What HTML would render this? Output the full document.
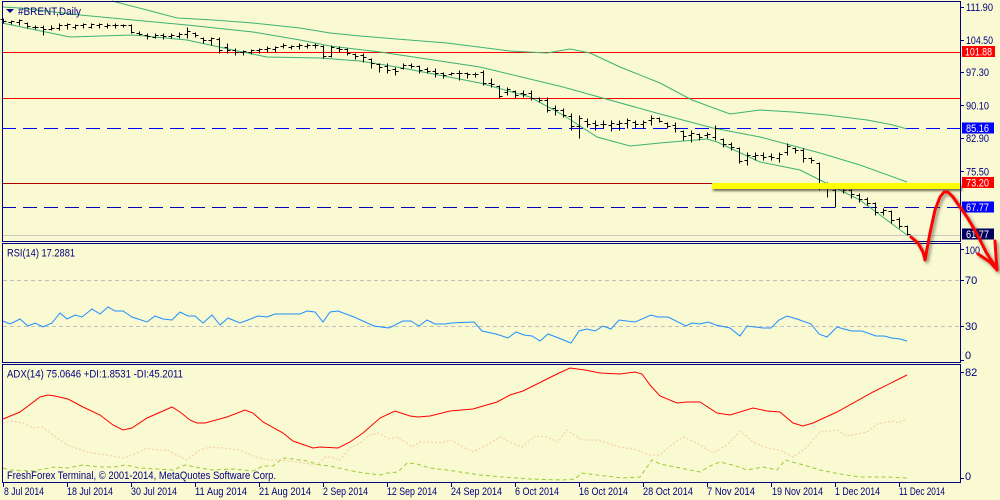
<!DOCTYPE html>
<html><head><meta charset="utf-8"><style>
html,body{margin:0;padding:0;background:#F9F9D2;}
svg{display:block;}
text{font-family:"Liberation Sans",Arial,sans-serif;font-size:11px;fill:#000080;}
</style></head><body>
<svg width="1000" height="500" viewBox="0 0 1000 500" xmlns="http://www.w3.org/2000/svg">
<defs>
<filter id="sh" x="-20%" y="-20%" width="140%" height="140%"><feDropShadow dx="2" dy="2" stdDeviation="1.5" flood-color="#404030" flood-opacity="0.6"/></filter>
<filter id="sh2" x="-5%" y="-50%" width="110%" height="250%"><feDropShadow dx="1" dy="2" stdDeviation="1" flood-color="#303020" flood-opacity="0.7"/></filter>
</defs>
<rect width="1000" height="500" fill="#F9F9D2"/>

<!-- horizontal levels -->
<g shape-rendering="crispEdges" stroke-width="1">
<line x1="2" y1="52.5" x2="960" y2="52.5" stroke="#ff0000"/>
<line x1="2" y1="98.5" x2="960" y2="98.5" stroke="#ff0000"/>
<line x1="2" y1="128.5" x2="960" y2="128.5" stroke="#0000ff" stroke-dasharray="14 7"/>
<line x1="2" y1="183.5" x2="960" y2="183.5" stroke="#b00000"/>
<line x1="2" y1="207.5" x2="960" y2="207.5" stroke="#0000b0" stroke-dasharray="14 7"/>
<line x1="2" y1="235.5" x2="960" y2="235.5" stroke="#c8c8c0"/>
</g>

<!-- bands -->
<g fill="none" stroke="#3CB371" stroke-width="1">
<polyline points="112,1 147,10 177,18 213,20 253,23 300,28 330,33 360,36 447,43 510,51 547,53 570,49 590,53 620,67 660,83 692,100 730,114 760,110 793,112 827,115 867,120 893,125 907,129"/>
<polyline points="2,7 20,8 80,15 133,20 187,25 253,32 300,40 330,46 380,52 480,67 563,87 660,114 713,128 760,137 820,153 860,165 907,182"/>
<polyline points="2,23 70,37 133,35 187,40 233,50 267,57 320,58 360,61 397,67 480,83 530,97 563,115 597,137 630,146 660,143 707,139 717,142 760,162 800,170 820,180 860,200 907,235"/>
</g>

<!-- bars -->
<path transform="translate(0.5,0.5)" fill="none" stroke="#000" stroke-width="1" shape-rendering="crispEdges" d="M3 18V23M0 19h3M3 21h3M11 20V24M8 22h3M11 21h3M19 19V25M16 22h3M19 20h3M27 22V28M24 23h3M27 26h3M35 25V29M32 27h3M35 27h3M43 25V35M40 27h3M43 29h3M51 25V30M48 29h3M51 28h3M59 23V30M56 28h3M59 25h3M67 23V29M64 25h3M67 24h3M75 24V29M72 27h3M75 25h3M83 23V28M80 25h3M83 24h3M91 23V28M88 27h3M91 24h3M99 23V28M96 25h3M99 24h3M107 23V28M104 26h3M107 25h3M115 23V28M112 25h3M115 25h3M123 24V27M120 25h3M123 25h3M131 24V33M128 25h3M131 32h3M139 31V35M136 33h3M139 34h3M147 33V39M144 35h3M147 36h3M155 33V38M152 37h3M155 35h3M163 33V39M160 35h3M163 36h3M171 33V38M168 36h3M171 35h3M179 32V38M176 36h3M179 34h3M187 27V38M184 34h3M187 31h3M195 32V37M192 33h3M195 35h3M203 37V43M200 38h3M203 40h3M211 37V45M208 40h3M211 38h3M219 37V53M216 39h3M219 50h3M227 43V53M224 47h3M227 50h3M235 48V55M232 50h3M235 52h3M243 50V55M240 52h3M243 51h3M251 49V54M248 52h3M251 50h3M259 48V53M256 50h3M259 49h3M267 46V52M264 49h3M267 48h3M275 46V52M272 49h3M275 47h3M283 43V48M280 46h3M283 45h3M291 45V49M288 47h3M291 46h3M299 43V49M296 46h3M299 45h3M307 43V48M304 46h3M307 45h3M315 43V48M312 45h3M315 45h3M323 45V58M320 46h3M323 56h3M331 45V57M328 56h3M331 47h3M339 46V52M336 48h3M339 49h3M347 48V55M344 49h3M347 53h3M355 53V59M352 54h3M355 56h3M363 53V62M360 55h3M363 57h3M371 58V68M368 59h3M371 63h3M379 63V72M376 64h3M379 67h3M387 63V73M384 66h3M387 70h3M395 67V75M392 69h3M395 71h3M403 63V69M400 68h3M403 65h3M411 63V68M408 65h3M411 66h3M419 65V73M416 66h3M419 70h3M427 67V73M424 69h3M427 71h3M435 68V77M432 71h3M435 73h3M443 72V78M440 73h3M443 75h3M451 72V75M448 74h3M451 73h3M459 70V80M456 73h3M459 73h3M467 72V78M464 73h3M467 74h3M475 72V77M472 74h3M475 74h3M483 70V85M480 72h3M483 83h3M491 78V87M488 83h3M491 84h3M499 85V98M496 86h3M499 96h3M507 87V95M504 92h3M507 89h3M515 90V98M512 91h3M515 95h3M523 90V97M520 93h3M523 94h3M531 90V100M528 93h3M531 98h3M539 97V102M536 98h3M539 100h3M547 97V112M544 100h3M547 110h3M555 105V115M552 108h3M555 110h3M563 108V117M560 110h3M563 115h3M571 113V130M568 116h3M571 126h3M579 115V138M576 126h3M579 118h3M587 118V127M584 121h3M587 124h3M595 120V130M592 123h3M595 125h3M603 120V128M600 124h3M603 124h3M611 120V131M608 125h3M611 123h3M619 120V130M616 124h3M619 123h3M627 118V128M624 123h3M627 120h3M635 120V128M632 122h3M635 124h3M643 120V128M640 124h3M643 122h3M651 115V125M648 120h3M651 118h3M659 117V122M656 118h3M659 121h3M667 122V128M664 123h3M667 126h3M675 122V132M672 125h3M675 128h3M683 130V140M680 131h3M683 136h3M691 130V142M688 135h3M691 133h3M699 133V140M696 134h3M699 137h3M707 132V138M704 135h3M707 134h3M715 125V140M712 137h3M715 128h3M723 138V147M720 139h3M723 144h3M731 142V150M728 144h3M731 147h3M739 147V163M736 148h3M739 161h3M747 152V165M744 160h3M747 155h3M755 152V160M752 156h3M755 155h3M763 152V160M760 155h3M763 157h3M771 153V160M768 156h3M771 157h3M779 152V162M776 158h3M779 154h3M787 143V155M784 152h3M787 146h3M795 147V153M792 148h3M795 150h3M803 148V162M800 150h3M803 158h3M811 157V163M808 158h3M811 160h3M819 162V190M816 163h3M819 188h3M827 182V197M824 185h3M827 187h3M835 183V207M832 190h3M835 186h3M843 183V193M840 186h3M843 190h3M851 188V198M848 190h3M851 194h3M859 193V202M856 195h3M859 199h3M867 197V205M864 199h3M867 203h3M875 202V215M872 203h3M875 212h3M883 208V215M880 212h3M883 210h3M891 210V223M888 211h3M891 220h3M899 217V228M896 219h3M899 226h3M907 225V235M904 226h3M907 234h3"/>

<!-- yellow highlight -->
<rect x="712" y="183" width="249" height="6" fill="#ffff00" filter="url(#sh2)"/>

<!-- RSI levels -->
<g shape-rendering="crispEdges">
<line x1="3" y1="280.5" x2="960" y2="280.5" stroke="#c0c0c0" stroke-dasharray="4 3"/>
<line x1="3" y1="326.5" x2="960" y2="326.5" stroke="#c0c0c0" stroke-dasharray="4 3"/>
</g>
<polyline fill="none" stroke="#1E90FF" stroke-width="1" points="3,321 10,324 20,319 28,326 35,323 43,327 52,323 60,313 67,319 75,315 82,317 92,309 100,314 108,307 115,311 123,311 132,317 147,322 155,316 163,319 172,320 180,312 188,316 195,316 203,323 212,315 220,325 228,318 240,323 248,320 258,316 267,317 275,314 300,314 307,311 315,312 323,322 330,312 338,311 354,317 374,326 389,328 403,321 411,321 419,326 427,320 435,324 445,324 451,323 474,322 482,331 496,334 508,338 516,332 524,335 532,336 540,341 548,334 556,337 571,343 579,331 587,329 595,331 603,326 611,329 619,320 635,322 651,315 658,317 668,317 686,326 692,323 700,324 708,322 716,325 730,328 740,336 747,326 755,327 763,328 771,328 779,320 787,316 797,319 811,324 819,334 827,337 837,327 844,329 852,331 862,331 876,336 884,336 892,338 900,339 907,341"/>

<!-- ADX -->
<polyline fill="none" stroke="#F4C8A6" stroke-width="1" stroke-dasharray="2 2" points="3,423 13,421 23,423 33,428 42,427 50,433 67,445 87,452 107,455 123,458 133,455 147,448 157,450 167,450 173,453 187,460 200,450 210,447 223,448 240,450 253,456 267,460 280,460 297,462 317,465 325,457 330,457 340,460 350,448 360,443 370,435 378,433 390,439 398,437 412,447 420,442 430,442 440,443 452,440 463,447 473,452 487,445 500,437 512,443 522,447 535,436 547,437 558,442 567,430 583,440 597,440 607,443 620,447 633,449 650,455 660,455 670,446 683,437 697,443 713,453 727,445 740,431 753,442 767,448 780,450 793,457 807,447 820,432 837,430 847,436 867,432 877,424 893,421 898,423 907,419"/>
<polyline fill="none" stroke="#9ACD32" stroke-width="1" stroke-dasharray="4 3" points="3,468 10,470 33,471 55,467 67,468 83,465 100,467 113,467 125,465 140,468 157,469 173,470 185,465 200,468 213,470 233,469 253,471 263,466 273,466 283,458 293,459 307,461 320,465 330,466 343,469 357,472 380,475 388,473 398,472 407,463 417,464 430,468 447,470 460,472 480,475 503,477 530,479 563,480 575,479 582,473 597,475 623,478 640,477 645,470 652,460 660,464 680,468 700,472 710,466 720,462 733,465 747,470 763,467 777,470 785,460 800,464 820,470 840,474 860,477 887,477 907,478"/>
<polyline fill="none" stroke="#ff0000" stroke-width="1" points="3,419 20,412 40,397 48,395 55,396 68,399 83,407 100,415 113,425 123,430 132,428 147,418 163,411 172,407 180,412 190,420 197,423 205,423 227,417 245,410 253,413 263,422 283,433 293,441 313,448 320,447 338,448 350,442 363,433 380,418 395,411 410,416 418,417 430,416 450,411 473,409 497,402 510,395 523,391 543,381 557,374 570,368 585,370 600,373 620,374 635,372 642,374 650,385 660,396 677,403 687,402 700,402 717,413 730,415 753,408 767,411 780,412 793,423 803,426 813,423 837,412 873,392 907,375"/>

<!-- frames -->
<g fill="none" stroke="#000080" stroke-width="1" shape-rendering="crispEdges">
<rect x="2.5" y="1.5" width="958" height="240"/>
<rect x="2.5" y="243.5" width="958" height="119"/>
<rect x="2.5" y="364.5" width="958" height="118"/>
<path d="M961 7.5h3M961 40.5h3M961 72.5h3M961 105.5h3M961 138.5h3M961 171.5h3M961 280.5h3M961 326.5h3M961 249.5h3M961 360.5h3M961 372.5h3M961 478.5h3"/>
<path d="M3.5 483v4M67.5 483v4M131.5 483v4M195.5 483v4M259.5 483v4M323.5 483v4M387.5 483v4M451.5 483v4M515.5 483v4M579.5 483v4M643.5 483v4M707.5 483v4M771.5 483v4M835.5 483v4M899.5 483v4"/>
</g>

<!-- titles -->
<polygon points="6,9 14,9 10,13" fill="#000080"/>
<text x="18" y="15" textLength="63" lengthAdjust="spacingAndGlyphs">#BRENT,Daily</text>
<text x="7" y="256.5" textLength="68" lengthAdjust="spacingAndGlyphs">RSI(14) 17.2881</text>
<text x="7" y="377.5" textLength="176" lengthAdjust="spacingAndGlyphs">ADX(14) 75.0646 +DI:1.8531 -DI:45.2011</text>
<text x="7" y="479" textLength="269" lengthAdjust="spacingAndGlyphs">FreshForex Terminal, © 2001-2014, MetaQuotes Software Corp.</text>

<!-- price axis -->
<g>
<text x="966" y="11" textLength="27" lengthAdjust="spacingAndGlyphs">111.90</text>
<text x="966" y="44" textLength="27" lengthAdjust="spacingAndGlyphs">104.50</text>
<text x="966" y="76" textLength="23" lengthAdjust="spacingAndGlyphs">97.30</text>
<text x="966" y="109.5" textLength="23" lengthAdjust="spacingAndGlyphs">90.10</text>
<text x="966" y="142" textLength="23" lengthAdjust="spacingAndGlyphs">82.90</text>
<text x="966" y="175.5" textLength="23" lengthAdjust="spacingAndGlyphs">75.50</text>
</g>
<rect x="962" y="46" width="33" height="11" fill="#ff0000"/>
<text x="965" y="55.5" textLength="27" lengthAdjust="spacingAndGlyphs" style="fill:#fff">101.88</text>
<rect x="962" y="122.5" width="32" height="11" fill="#0000ff"/>
<text x="966" y="132" textLength="23" lengthAdjust="spacingAndGlyphs" style="fill:#fff">85.16</text>
<rect x="962" y="177" width="32" height="11" fill="#ff0000"/>
<text x="966" y="186.5" textLength="23" lengthAdjust="spacingAndGlyphs" style="fill:#fff">73.20</text>
<rect x="962" y="201.5" width="32" height="11" fill="#0000ff"/>
<text x="966" y="211" textLength="23" lengthAdjust="spacingAndGlyphs" style="fill:#fff">67.77</text>
<rect x="962" y="228.5" width="32" height="11" fill="#000060"/>
<text x="966" y="238" textLength="23" lengthAdjust="spacingAndGlyphs" style="fill:#fff">61.77</text>

<!-- indicator axes -->
<text x="965" y="254" textLength="15" lengthAdjust="spacingAndGlyphs">100</text>
<text x="965" y="284">70</text>
<text x="965" y="330">30</text>
<text x="965" y="359">0</text>
<text x="965" y="376">82</text>
<text x="965" y="480">0</text>

<!-- dates -->
<g>
<text x="4" y="495" textLength="40" lengthAdjust="spacingAndGlyphs">8 Jul 2014</text>
<text x="67" y="495" textLength="46" lengthAdjust="spacingAndGlyphs">18 Jul 2014</text>
<text x="131" y="495" textLength="46" lengthAdjust="spacingAndGlyphs">30 Jul 2014</text>
<text x="195" y="495" textLength="52" lengthAdjust="spacingAndGlyphs">11 Aug 2014</text>
<text x="259" y="495" textLength="52" lengthAdjust="spacingAndGlyphs">21 Aug 2014</text>
<text x="323" y="495" textLength="45" lengthAdjust="spacingAndGlyphs">2 Sep 2014</text>
<text x="387" y="495" textLength="50" lengthAdjust="spacingAndGlyphs">12 Sep 2014</text>
<text x="451" y="495" textLength="51" lengthAdjust="spacingAndGlyphs">24 Sep 2014</text>
<text x="515" y="495" textLength="44" lengthAdjust="spacingAndGlyphs">6 Oct 2014</text>
<text x="579" y="495" textLength="49" lengthAdjust="spacingAndGlyphs">16 Oct 2014</text>
<text x="643" y="495" textLength="50" lengthAdjust="spacingAndGlyphs">28 Oct 2014</text>
<text x="707" y="495" textLength="48" lengthAdjust="spacingAndGlyphs">7 Nov 2014</text>
<text x="772" y="495" textLength="51" lengthAdjust="spacingAndGlyphs">19 Nov 2014</text>
<text x="835" y="495" textLength="45" lengthAdjust="spacingAndGlyphs">1 Dec 2014</text>
<text x="899" y="495" textLength="46" lengthAdjust="spacingAndGlyphs">11 Dec 2014</text>
</g>

<!-- hand-drawn red arrow -->
<g fill="none" stroke="#ff0000" stroke-width="3" stroke-linecap="round" stroke-linejoin="round" filter="url(#sh)">
<polyline points="911,237 918,243 923,252 925,260 927,249 930,233 935,210 940,197 944,192 948,192 953,197 960,207 967,217 973,227 980,240 986,252 991,260 997,269"/>
<polyline points="978,254 990,262 997,270 996,256 995,241"/>
</g>
</svg>
</body></html>
